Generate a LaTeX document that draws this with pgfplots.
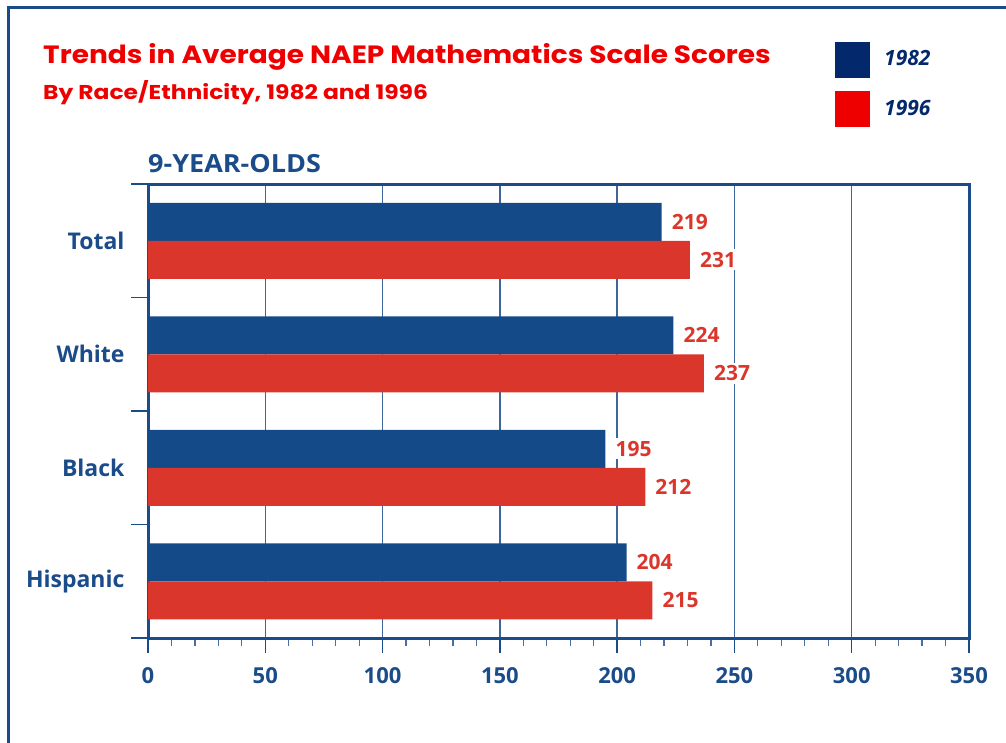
\documentclass[border=0pt]{standalone}
\usepackage{pgfplots}
\pgfplotsset{compat=1.18}
\usepackage{fontspec}
\setmainfont{Open Sans}
\newfontfamily\titlefont{Poppins}
\definecolor{navyA}{HTML}{1B4C89}
\definecolor{barblue}{HTML}{154A88}
\definecolor{barred}{HTML}{DB362C}
\definecolor{titlered}{HTML}{EE0000}
\definecolor{legnavy}{HTML}{03286B}
\begin{document}
\begin{tikzpicture}
\path[use as bounding box] (0pt,0pt) rectangle (1006pt,-743pt);
\draw[navyA, line width=3pt] (8pt,-743pt) -- (8pt,-8pt) -- (1006pt,-8pt);
\node[anchor=base west, inner sep=0pt, xscale=1.12, text=titlered, font=\titlefont\fontsize{25}{29}\selectfont\bfseries] at (43pt,-64pt) {Trends in Average NAEP Mathematics Scale Scores};
\node[anchor=base west, inner sep=0pt, xscale=1.17, text=titlered, font=\titlefont\fontsize{20}{24}\selectfont\bfseries] at (43pt,-100pt) {By Race/Ethnicity, 1982 and 1996};
\node[anchor=base west, inner sep=0pt, xscale=1.08, text=navyA, font=\fontsize{25}{29}\selectfont\bfseries] at (148pt,-173pt) {9-YEAR-OLDS};
\fill[legnavy] (835pt,-42pt) rectangle (870pt,-78pt);
\fill[titlered] (835pt,-91pt) rectangle (870pt,-127pt);
\node[anchor=base west, inner sep=0pt, text=legnavy, font=\fontsize{21}{25}\selectfont\bfseries\itshape] at (884pt,-66pt) {1982};
\node[anchor=base west, inner sep=0pt, text=legnavy, font=\fontsize{21}{25}\selectfont\bfseries\itshape] at (884pt,-116pt) {1996};
\begin{axis}[
  at={(148pt,-638pt)}, anchor=south west,
  scale only axis, width=821pt, height=454pt,
  xmin=0, xmax=350, ymin=-0.5, ymax=3.5,
  xbar, bar width=38pt,
  axis line style={navyA, line width=3pt},
  xtick={0,50,...,350}, minor x tick num=4,
  xtick pos=bottom,
  tick align=outside, major tick length=15pt, minor tick length=8pt,
  xmajorgrids, grid style={navyA!85, line width=1.3pt},
  ytick={0,1,2,3}, yticklabels={Hispanic,Black,White,Total},
  ytick style={draw=none},
  xtick style={navyA, line width=1.5pt},
  minor x tick style={navyA!80, line width=1.2pt},
  tick label style={text=navyA, font=\fontsize{22}{26}\selectfont\bfseries},
  yticklabel style={xshift=-5pt, font=\fontsize{23}{27}\selectfont\bfseries},
  xticklabel style={yshift=-11pt},
  /pgf/number format/assume math mode=true,
  clip=false,
  nodes near coords,
  nodes near coords style={anchor=west, text=barred, fill=white, inner sep=3pt, xshift=7pt,
     font=\fontsize{21}{25}\selectfont\bfseries, /pgf/number format/assume math mode=true},
]
\addplot[fill=barblue, draw=none, bar shift=19pt] coordinates {(219,3) (224,2) (195,1) (204,0)};
\addplot[fill=barred, draw=none, bar shift=-19pt] coordinates {(231,3) (237,2) (212,1) (215,0)};
\draw[navyA, line width=1.5pt] (axis cs:0,-0.5) -- ++(-17pt,0pt);
\draw[navyA, line width=1.5pt] (axis cs:0,0.5) -- ++(-17pt,0pt);
\draw[navyA, line width=1.5pt] (axis cs:0,1.5) -- ++(-17pt,0pt);
\draw[navyA, line width=1.5pt] (axis cs:0,2.5) -- ++(-17pt,0pt);
\draw[navyA, line width=1.5pt] (axis cs:0,3.5) -- ++(-17pt,0pt);
\end{axis}
\end{tikzpicture}
\end{document}
